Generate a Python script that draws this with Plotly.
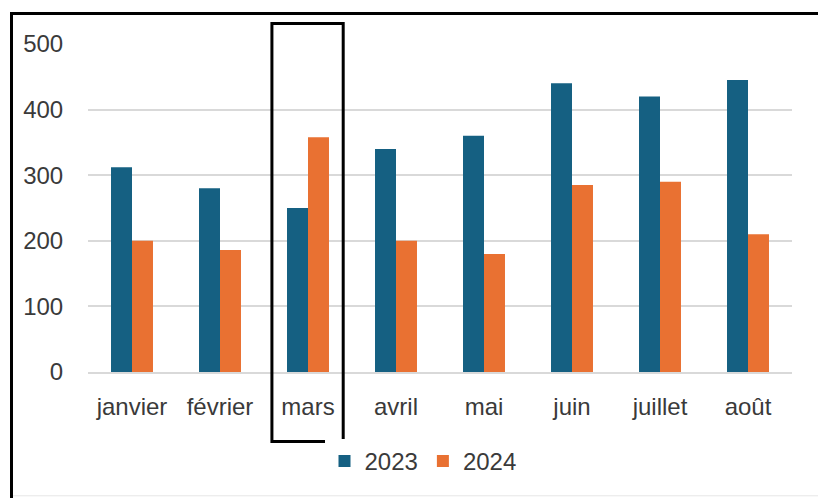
import plotly.graph_objects as go

months = ["janvier", "février", "mars", "avril", "mai", "juin", "juillet", "août"]
v2023 = [312, 280, 250, 340, 360, 440, 420, 445]
v2024 = [200, 186, 358, 200, 180, 285, 290, 210]
yticks = [0, 100, 200, 300, 400, 500]

C2023 = "#156082"
C2024 = "#E97132"

W, H = 818, 498
ML, MR, MT, MB = 88, 26, 44, 125.5
PW = W - ML - MR
PH = H - MT - MB

def px_x(p):
    return (p - ML) / PW

def px_y(p):
    return (H - MB - p) / PH

fig = go.Figure()
fig.add_trace(go.Bar(x=months, y=v2023, name="2023", marker=dict(color=C2023, line=dict(width=0))))
fig.add_trace(go.Bar(x=months, y=v2024, name="2024", marker=dict(color=C2024, line=dict(width=0))))

font = dict(family="Liberation Sans, Arial, sans-serif", size=24, color="#3a3a3a")

shapes = [
    dict(type="line", xref="paper", yref="paper", x0=px_x(11.5), x1=px_x(11.5), y0=px_y(13), y1=px_y(520),
         line=dict(color="black", width=3)),
    dict(type="line", xref="paper", yref="paper", x0=px_x(10), x1=px_x(840), y0=px_y(13.5), y1=px_y(13.5),
         line=dict(color="black", width=3)),
    dict(type="line", xref="paper", yref="paper", x0=px_x(13), x1=px_x(840), y0=px_y(496.5), y1=px_y(496.5),
         line=dict(color="#e6e6e6", width=1)),
    dict(type="rect", xref="x", yref="paper", x0=2 - 0.41, x1=2 + 0.40, y0=px_y(442), y1=px_y(23.5),
         line=dict(color="black", width=3), fillcolor="rgba(0,0,0,0)"),
]

fig.update_layout(
    width=W, height=H,
    margin=dict(l=ML, r=MR, t=MT, b=MB, pad=0),
    paper_bgcolor="white", plot_bgcolor="white",
    barmode="group", bargap=0.523, bargroupgap=0,
    font=font,
    showlegend=True,
    legend=dict(orientation="h", x=px_x(423), xanchor="center", y=px_y(462), yanchor="middle",
                font=font, itemwidth=30, traceorder="normal"),
    shapes=shapes,
    xaxis=dict(showgrid=False, showline=True, linecolor="#d9d9d9", linewidth=1.5,
               ticks="outside", ticklen=12, tickcolor="rgba(0,0,0,0)", tickfont=font),
    yaxis=dict(range=[0, 500], tickvals=yticks, showgrid=True, gridcolor="#d9d9d9", gridwidth=1.5,
               zeroline=False, showline=False, ticks="outside", ticklen=19, tickcolor="rgba(0,0,0,0)",
               tickfont=font),
)

fig.write_html(
    "out.html",
    config={"displayModeBar": False},
    post_script="document.body.style.margin='0';document.body.style.overflow='hidden';",
)
